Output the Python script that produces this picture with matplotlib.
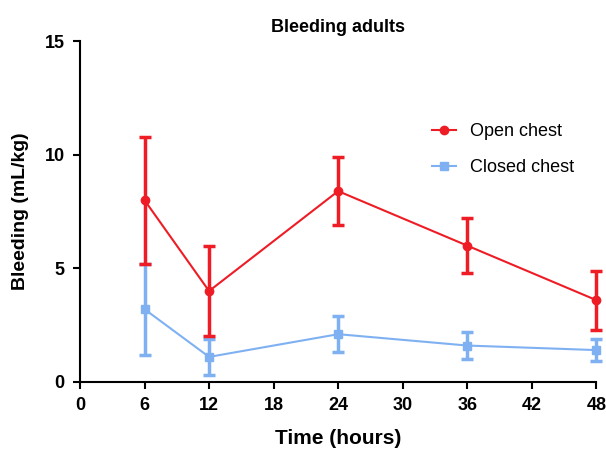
import matplotlib.pyplot as plt
from matplotlib.lines import Line2D

plt.rcParams['font.family'] = ['Liberation Sans', 'DejaVu Sans']

# Bleeding over time, mean and SD per group
hours = [6, 12, 24, 36, 48]
open_mean = [8.0, 4.0, 8.4, 6.0, 3.6]
open_sd = [2.8, 2.0, 1.5, 1.2, 1.3]
closed_mean = [3.2, 1.1, 2.1, 1.6, 1.4]
closed_sd = [2.0, 0.8, 0.8, 0.6, 0.5]

red = '#ee1c25'
blue = '#7fb1f2'

fig = plt.figure(figsize=(6.06, 4.53), dpi=100)
ax = fig.add_axes([0.132, 0.157, 0.852, 0.752])

series = [
    (closed_mean, closed_sd, blue, 's', 2),
    (open_mean, open_sd, red, 'o', 3),
]
for mean, sd, color, marker, z in series:
    eb = ax.errorbar(hours, mean, yerr=sd, color=color, marker=marker, markersize=6,
                     linewidth=1.5, elinewidth=2.5, capsize=4, capthick=2.5, zorder=z)
    for art in eb.get_children():
        art.set_clip_on(False)

ax.set_xlim(0, 48)
ax.set_ylim(0, 15)
ax.set_xticks(range(0, 49, 6))
ax.set_yticks([0, 5, 10, 15])

for side in ['top', 'right']:
    ax.spines[side].set_visible(False)
for side in ['left', 'bottom']:
    ax.spines[side].set_linewidth(1.5)
ax.tick_params(direction='out', length=5, width=1.5, labelsize=13, pad=6)
for lbl in ax.get_xticklabels() + ax.get_yticklabels():
    lbl.set_fontweight('bold')

ax.set_xlabel('Time (hours)', fontsize=15, fontweight='bold', labelpad=11)
ax.set_ylabel('Bleeding (mL/kg)', fontsize=14, fontweight='bold', labelpad=11)
ax.set_title('Bleeding adults', fontsize=13, fontweight='bold', pad=7)

handles = [
    Line2D([], [], color=red, marker='o', markersize=6, linewidth=1.5),
    Line2D([], [], color=blue, marker='s', markersize=6, linewidth=1.5),
]
ax.legend(handles, ['Open chest', 'Closed chest'], loc='upper left',
          bbox_to_anchor=(0.682, 0.76), borderaxespad=0, borderpad=0,
          frameon=False, fontsize=13, labelspacing=1.05, handlelength=1.3,
          handletextpad=0.8)

fig.savefig('out.png', dpi=100)
